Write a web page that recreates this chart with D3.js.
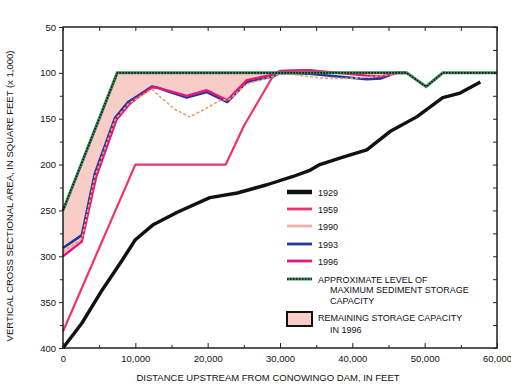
<!DOCTYPE html>
<html><head><meta charset="utf-8">
<script src="https://cdn.jsdelivr.net/npm/d3@7"></script>
<style>
html,body{margin:0;padding:0;background:#fff;}
svg text{font-family:"Liberation Sans",Arial,sans-serif;fill:#111;}
</style></head>
<body>
<svg id="chart" width="511" height="385"></svg>
<script>
// ---- data (x: feet upstream, y: cross-sectional area, 1,000 sq ft) ----
const xTicks = [0, 10000, 20000, 30000, 40000, 50000, 60000];
const xTickLabels = ["0", "10,000", "20,000", "30,000", "40,000", "50,000", "60,000"];
const yTicks = [50, 100, 150, 200, 250, 300, 350, 400];
const yTickLabels = ["50", "100", "150", "200", "250", "300", "350", "400"];

const s1929 = [[0,400],[2600,373],[5400,337],[8200,304],[10000,282],[12400,266],[15800,252],[20300,236],[24100,231],[28200,222],[31800,213],[34200,206],[35500,200],[38700,192],[42000,184],[45200,164],[48900,148],[52500,127],[54900,122],[57700,110]];
const s1959 = [[0,382],[10000,200],[22500,200],[25000,158],[29000,104],[30000,98],[34000,97],[36000,100],[47500,100]];
const s1990 = [[0,295],[2600,281],[4400,213],[7200,151],[9000,134],[10200,128],[12300,118],[13400,126],[15500,140],[17500,148],[19500,140],[21700,130],[23000,129],[25400,112],[29000,104],[30000,100],[33000,103],[36000,106],[40000,106],[43000,104],[47500,100]];
const s1993 = [[0,291],[2600,277],[4400,210],[7200,149],[9000,132],[10200,126],[12300,115],[13000,116],[14800,121],[17100,127],[19900,121],[22700,132],[25400,110],[29000,104],[30000,100],[34000,101],[38000,104],[42000,107],[44000,106],[46000,100],[47500,100]];
const s1996 = [[0,300],[2600,284],[4600,213],[7400,151],[9200,134],[10300,127],[12300,116],[13000,116],[14800,120],[17100,125],[19900,119],[22700,130],[25400,108],[29000,102],[30000,98],[34000,97],[38000,100],[42000,103],[44000,104],[46000,100],[47500,100]];
const maxLevel = [[0,250],[7500,100],[47500,100],[50200,115],[52500,100],[60000,100]];
const fillEnd = 30000;

const legendLabels = ["1929", "1959", "1990", "1993", "1996"];
const legendMaxLines = ["APPROXIMATE LEVEL OF", "MAXIMUM SEDIMENT STORAGE", "CAPACITY"];
const legendFillLines = ["REMAINING STORAGE CAPACITY", "IN 1996"];
const yTitle = "VERTICAL CROSS SECTIONAL AREA, IN SQUARE FEET (x 1,000)";
const xTitle = "DISTANCE UPSTREAM FROM CONOWINGO DAM, IN FEET";

// ---- drawing ----
const svg = d3.select("#chart");
const x = d3.scaleLinear().domain([0, 60000]).range([63, 497]);
const y = d3.scaleLinear().domain([50, 400]).range([27, 348]);
const line = d3.line().x(d => x(d[0])).y(d => y(d[1]));

// fill polygon: max level to 30000 and back along 1996
const topPts = maxLevel.filter(d => d[0] <= fillEnd).concat([[fillEnd, 100]]);
const botPts = s1996.filter(d => d[0] <= fillEnd).slice().reverse();
svg.append("path").attr("d", line(topPts.concat(botPts)) + "Z")
  .attr("fill", "#f8cdc8").attr("stroke", "none");

const styles = [
  {data: s1929, color: "#111", width: 3.4},
  {data: s1959, color: "#ee3468", width: 2.2},
  {data: s1993, color: "#23389a", width: 2.6},
  {data: s1996, color: "#e8177c", width: 2.4},
  {data: s1990, color: "#e8a070", width: 1.6, dash: "3,2"}
];
styles.forEach(s => {
  svg.append("path").attr("d", line(s.data)).attr("fill", "none")
    .attr("stroke", s.color).attr("stroke-width", s.width)
    .attr("stroke-linejoin", "round")
    .attr("stroke-dasharray", s.dash || null);
});
// max level: green under black dots
svg.append("path").attr("d", line(maxLevel)).attr("fill", "none")
  .attr("stroke", "#3c8a5a").attr("stroke-width", 3);
svg.append("path").attr("d", line(maxLevel)).attr("fill", "none")
  .attr("stroke", "#111").attr("stroke-width", 1.6).attr("stroke-dasharray", "1.5,1.5");

// frame
svg.append("rect").attr("x", x(0)).attr("y", y(50))
  .attr("width", x(60000) - x(0)).attr("height", y(400) - y(50))
  .attr("fill", "none").attr("stroke", "#111").attr("stroke-width", 1.4);

// axes
const axB = d3.axisBottom(x).tickValues(xTicks).tickFormat((d,i) => xTickLabels[i]).tickSize(-5).tickPadding(7);
const gB = svg.append("g").attr("transform", `translate(0,${y(400)})`).call(axB);
const axL = d3.axisLeft(y).tickValues(yTicks).tickFormat((d,i) => yTickLabels[i]).tickSize(4).tickPadding(3);
const gL = svg.append("g").attr("transform", `translate(${x(0)},0)`).call(axL);
const axT = d3.axisTop(x).tickValues(d3.range(0, 60001, 5000)).tickFormat("").tickSize(-4);
const gT = svg.append("g").attr("transform", `translate(0,${y(50)})`).call(axT);
const axR = d3.axisRight(y).tickValues(d3.range(50, 401, 25)).tickFormat("").tickSize(-4);
const gR = svg.append("g").attr("transform", `translate(${x(60000)},0)`).call(axR);
const minorB = d3.axisBottom(x).tickValues(d3.range(5000, 60000, 10000)).tickFormat("").tickSize(-3);
const gMB = svg.append("g").attr("transform", `translate(0,${y(400)})`).call(minorB);
const minorL = d3.axisLeft(y).tickValues(d3.range(75, 400, 50)).tickFormat("").tickSize(3);
const gML = svg.append("g").attr("transform", `translate(${x(0)},0)`).call(minorL);
[gB, gL, gT, gR, gMB, gML].forEach(g => {
  g.select(".domain").remove();
  g.selectAll("line").attr("stroke", "#222").attr("stroke-width", 1);
  g.selectAll("text").attr("font-size", 9.5).attr("fill", "#111")
    .style("font-family", '"Liberation Sans",Arial,sans-serif');
});

// axis titles
svg.append("text").attr("x", 268).attr("y", 381).attr("text-anchor", "middle")
  .attr("font-size", 9.5).text(xTitle);
svg.append("text").attr("transform", "translate(13,196) rotate(-90)")
  .attr("text-anchor", "middle").attr("font-size", 9.5).text(yTitle);

// legend
const lx0 = 287, lx1 = 312, tx = 318;
const legY = [192, 209, 226, 244, 261];
styles.slice(0, 2).concat([styles[4], styles[2], styles[3]]).forEach((s, i) => {
  svg.append("line").attr("x1", lx0).attr("x2", lx1).attr("y1", legY[i]).attr("y2", legY[i])
    .attr("stroke", i === 2 ? "#f3b0a8" : s.color).attr("stroke-width", i === 0 ? 4.5 : 2.8);
  svg.append("text").attr("x", tx).attr("y", legY[i] + 3.5).attr("font-size", 9).text(legendLabels[i]);
});
svg.append("line").attr("x1", lx0).attr("x2", lx1).attr("y1", 279).attr("y2", 279)
  .attr("stroke", "#3c8a5a").attr("stroke-width", 3);
svg.append("line").attr("x1", lx0).attr("x2", lx1).attr("y1", 279).attr("y2", 279)
  .attr("stroke", "#111").attr("stroke-width", 1.5).attr("stroke-dasharray", "1.5,1.5");
legendMaxLines.forEach((t, i) => {
  svg.append("text").attr("x", i === 0 ? tx : tx + 12).attr("y", 282.5 + i * 10.5)
    .attr("font-size", 9).text(t);
});
svg.append("rect").attr("x", lx0).attr("y", 312).attr("width", lx1 - lx0).attr("height", 14)
  .attr("fill", "#f8cdc8").attr("stroke", "#111").attr("stroke-width", 2);
legendFillLines.forEach((t, i) => {
  svg.append("text").attr("x", i === 0 ? tx : tx + 12).attr("y", 320.5 + i * 12)
    .attr("font-size", 9).text(t);
});
</script>
</body></html>
